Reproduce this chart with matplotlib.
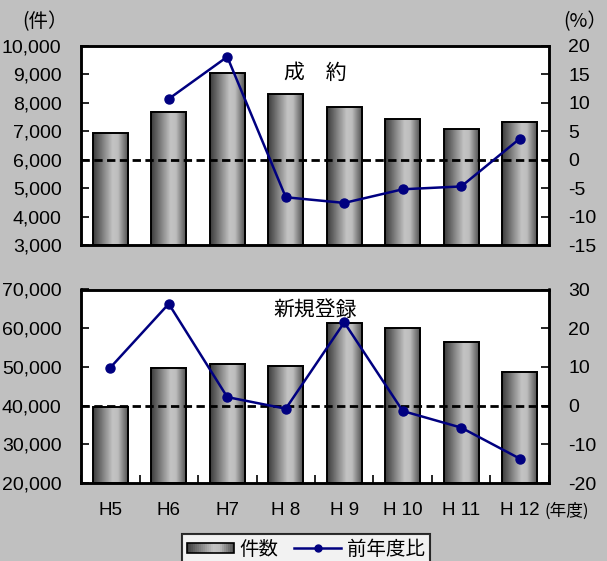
import numpy as np
import matplotlib
matplotlib.use("Agg")
import matplotlib.pyplot as plt
from matplotlib.colors import LinearSegmentedColormap
from matplotlib.patches import Rectangle
from matplotlib.lines import Line2D
from matplotlib.legend_handler import HandlerBase

plt.rcParams['font.family'] = ['Liberation Sans', 'Noto Sans CJK JP', 'DejaVu Sans']

# ---------------- data ----------------
categories = ["H5", "H6", "H7", "H 8", "H 9", "H 10", "H 11", "H 12"]
seiyaku_count = [6930, 7690, 9040, 8300, 7840, 7430, 7070, 7340]
seiyaku_yoy = [np.nan, 10.7, 18.1, -6.6, -7.6, -5.2, -4.7, 3.7]
touroku_count = [39700, 49800, 50750, 50240, 61240, 60030, 56500, 48760]
touroku_yoy = [9.8, 26.3, 2.2, -0.8, 21.5, -1.4, -5.7, -13.7]

top_left_ticks = [3000, 4000, 5000, 6000, 7000, 8000, 9000, 10000]
top_right_ticks = [-15, -10, -5, 0, 5, 10, 15, 20]
bot_left_ticks = [20000, 30000, 40000, 50000, 60000, 70000]
bot_right_ticks = [-20, -10, 0, 10, 20, 30]

title_top = "成　約"
title_bot = "新規登録"
legend_bar = "件数"
legend_line = "前年度比"

# ---------------- style ----------------
BG = "#c0c0c0"
NAVY = "#000080"
cmap = LinearSegmentedColormap.from_list(
    "cyl", [(0.0, "#3c3c3c"), (0.55, "#c4c4c4"), (0.7, "#bdbdbd"), (1.0, "#4a4a4a")])
grad = np.linspace(0, 1, 64).reshape(1, -1)
BAR_W = 0.6

fig = plt.figure(figsize=(6.07, 5.61), dpi=100, facecolor=BG)

def draw_panel(rect, counts, yoy, lticks, rticks, title, title_y, show_x):
    ax = fig.add_axes(rect)
    ax.set_facecolor("white")
    x = np.arange(len(categories))
    ylo, yhi = lticks[0], lticks[-1]
    for xi, v in zip(x, counts):
        ax.imshow(grad, cmap=cmap, aspect="auto",
                  extent=[xi - BAR_W / 2, xi + BAR_W / 2, ylo, v],
                  interpolation="bilinear", zorder=2)
    ax.bar(x, [c - ylo for c in counts], bottom=ylo, width=BAR_W,
           facecolor="none", edgecolor="black", linewidth=1.4, zorder=3)
    ax.set_xlim(-0.5, len(categories) - 0.5)
    ax.set_ylim(ylo, yhi)
    ax.set_yticks(lticks)
    ax.set_yticklabels([f"{t:,}" for t in lticks], fontsize=14)
    ax.tick_params(axis="y", direction="in", length=6, width=1.2, pad=14)
    if show_x:
        ax.set_xticks(x)
        ax.set_xticklabels(categories, fontsize=13.5)
        ax.set_xticks(np.arange(len(categories) + 1) - 0.5, minor=True)
        ax.tick_params(axis="x", which="major", length=0, pad=14)
        ax.tick_params(axis="x", which="minor", direction="in", length=6, width=1.2)
    else:
        ax.set_xticks([])
    for s in ax.spines.values():
        s.set_linewidth(1.8)

    ax2 = ax.twinx()
    ax2.set_ylim(rticks[0], rticks[-1])
    ax2.set_yticks(rticks)
    ax2.set_yticklabels([str(t) for t in rticks], fontsize=14)
    ax2.tick_params(axis="y", direction="in", length=6, width=1.2, pad=14)
    ax2.axhline(0, color="black", linestyle=(0, (3, 1.6)), linewidth=2, zorder=4)
    ax2.plot(x, yoy, color=NAVY, linewidth=1.8, marker="o", markersize=6.5, zorder=5)
    for s in ax2.spines.values():
        s.set_linewidth(1.8)
    ax2.text(0.5, title_y, title, transform=ax2.transAxes, ha="center", va="center",
             fontsize=15, family=["Noto Sans CJK JP", "DejaVu Sans"], zorder=6)
    return ax, ax2

L, R = 81 / 607, 549 / 607
W = 607.0; H = 561.0
draw_panel([L, 1 - 245 / H, R - L, (245 - 46) / H], seiyaku_count, seiyaku_yoy,
           top_left_ticks, top_right_ticks, title_top, 0.865, False)
draw_panel([L, 1 - 483 / H, R - L, (483 - 289.5) / H], touroku_count, touroku_yoy,
           bot_left_ticks, bot_right_ticks, title_bot, 0.895, True)

cjk = ["Noto Sans CJK JP", "DejaVu Sans"]
fig.text(45 / W, 1 - 22 / H, "(件）", ha="center", va="center", fontsize=14, family=cjk)
fig.text(585 / W, 1 - 22 / H, "(%）", ha="center", va="center", fontsize=14, family=cjk)
fig.text(567 / W, 1 - 511 / H, "(年度)", ha="center", va="center", fontsize=12, family=cjk)

class GradHandler(HandlerBase):
    def create_artists(self, legend, orig_handle, xdescent, ydescent, width, height,
                       fontsize, trans):
        arts = []
        n = 24
        h = height * 0.75
        y0 = -ydescent + (height - h) / 2
        for i in range(n):
            r = Rectangle((-xdescent + width * i / n, y0), width / n + 0.3, h,
                          facecolor=cmap((i + 0.5) / n), edgecolor="none", transform=trans)
            arts.append(r)
        arts.append(Rectangle((-xdescent, y0), width, h, facecolor="none",
                              edgecolor="black", linewidth=1.2, transform=trans))
        return arts

bar_handle = Rectangle((0, 0), 1, 1)
line_handle = Line2D([], [], color=NAVY, marker="o", markersize=5, linewidth=1.8)
leg = fig.legend([bar_handle, line_handle], [legend_bar, legend_line],
                 handler_map={Rectangle: GradHandler()},
                 loc="upper center", bbox_to_anchor=(306 / W, 1 - 534 / H),
                 ncol=2, frameon=True, fancybox=False,
                 prop={"family": cjk, "size": 14},
                 handlelength=2.4, handletextpad=0.3, columnspacing=0.8,
                 borderpad=0.25, borderaxespad=0)
leg.get_frame().set_edgecolor("black")
leg.get_frame().set_linewidth(1.5)

fig.savefig("out.png", dpi=100, facecolor=BG)
